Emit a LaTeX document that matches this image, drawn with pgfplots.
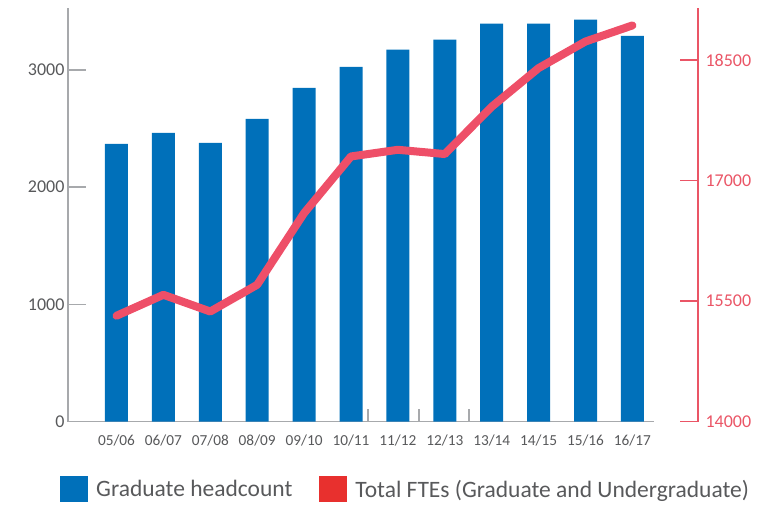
\documentclass[border=0pt]{standalone}
\usepackage{pgfplots}
\pgfplotsset{compat=1.18}
\usepackage{fontspec}
\setmainfont{Carlito}

\definecolor{barblue}{HTML}{0070BA}
\definecolor{linepink}{HTML}{EE4F68}
\definecolor{legred}{HTML}{E8302E}
\definecolor{axgrey}{HTML}{A7A9AC}
\definecolor{txtgrey}{HTML}{58595B}
\definecolor{rightred}{HTML}{EA5566}

% graduate headcount (left axis)
\pgfplotstableread{
x hc
0  2370
1  2464
2  2379
3  2584
4  2849
5  3028
6  3174
7  3259
8  3396
9  3396
10 3430
11 3293
}\hctable

% total FTEs (right axis)
\pgfplotstableread{
x fte
0  15316
1  15577
2  15369
3  15702
4  16594
5  17299
6  17382
7  17329
8  17918
9  18399
10 18730
11 18930
}\ftetable

\begin{document}
\begin{tikzpicture}
\path[use as bounding box] (-68pt,-84.5pt) rectangle (689pt,421.5pt);
\begin{axis}[
  scale only axis, width=586pt, height=413.5pt,
  xmin=-1.034, xmax=11.46, ymin=0, ymax=3530,
  axis x line*=bottom, axis y line*=left,
  axis line style={draw=axgrey, line width=1.5pt},
  ybar, bar width=23pt,
  xtick={0,...,11},
  xticklabels={05/06,06/07,07/08,08/09,09/10,10/11,11/12,12/13,13/14,14/15,15/16,16/17},
  ytick={0,1000,2000,3000},
  tick align=inside, major tick length=18pt,
  xtick style={draw=none},
  ytick style={draw=axgrey, line width=1.5pt},
  extra x ticks={5.36,6.45,7.52},
  extra x tick labels={},
  extra x tick style={xtick style={draw=axgrey, line width=1.5pt}, major tick length=12pt},
  xticklabel style={text=txtgrey, font=\fontsize{15.3}{16}\selectfont, yshift=-10pt},
  yticklabel style={text=txtgrey, font=\fontsize{18}{18}\selectfont},
  /pgf/number format/assume math mode=true,
  /pgf/number format/1000 sep={},
  legend image code/.code={\fill[#1] (0pt,-13pt) rectangle (28pt,13pt);},
  legend columns=2,
  legend style={at={(axis description cs:-0.01365,-0.1318)}, anchor=north west,
    draw=none, fill=none, inner sep=0pt,
    font=\fontsize{23.5}{24}\selectfont, text=txtgrey,
    nodes={inner sep=0pt},
    /tikz/every odd column/.append style={column sep=8pt},
    /tikz/every even column/.append style={column sep=27pt}},
]
\addplot[fill=barblue, draw=none] table[x=x, y=hc] {\hctable};
\addlegendentry{Graduate headcount}
\addlegendimage{fill=legred, draw=none}
\addlegendentry{Total FTEs (Graduate and Undergraduate)}
\end{axis}
\begin{axis}[
  scale only axis, width=630pt, height=413.5pt,
  xmin=-1.034, xmax=12.399, ymin=14000, ymax=19147,
  axis x line=none, axis y line*=right,
  axis line style={draw=rightred, line width=1.5pt},
  ytick={14000,15500,17000,18500},
  scaled y ticks=false,
  tick align=inside, major tick length=18pt,
  ytick style={draw=rightred, line width=1.5pt},
  yticklabel style={text=rightred, font=\fontsize{18}{18}\selectfont, xshift=4pt},
  /pgf/number format/assume math mode=true,
  /pgf/number format/1000 sep={},
]
\addplot[linepink, line width=8pt, line cap=round, line join=round] table[x=x, y=fte] {\ftetable};
\end{axis}
\end{tikzpicture}
\end{document}
